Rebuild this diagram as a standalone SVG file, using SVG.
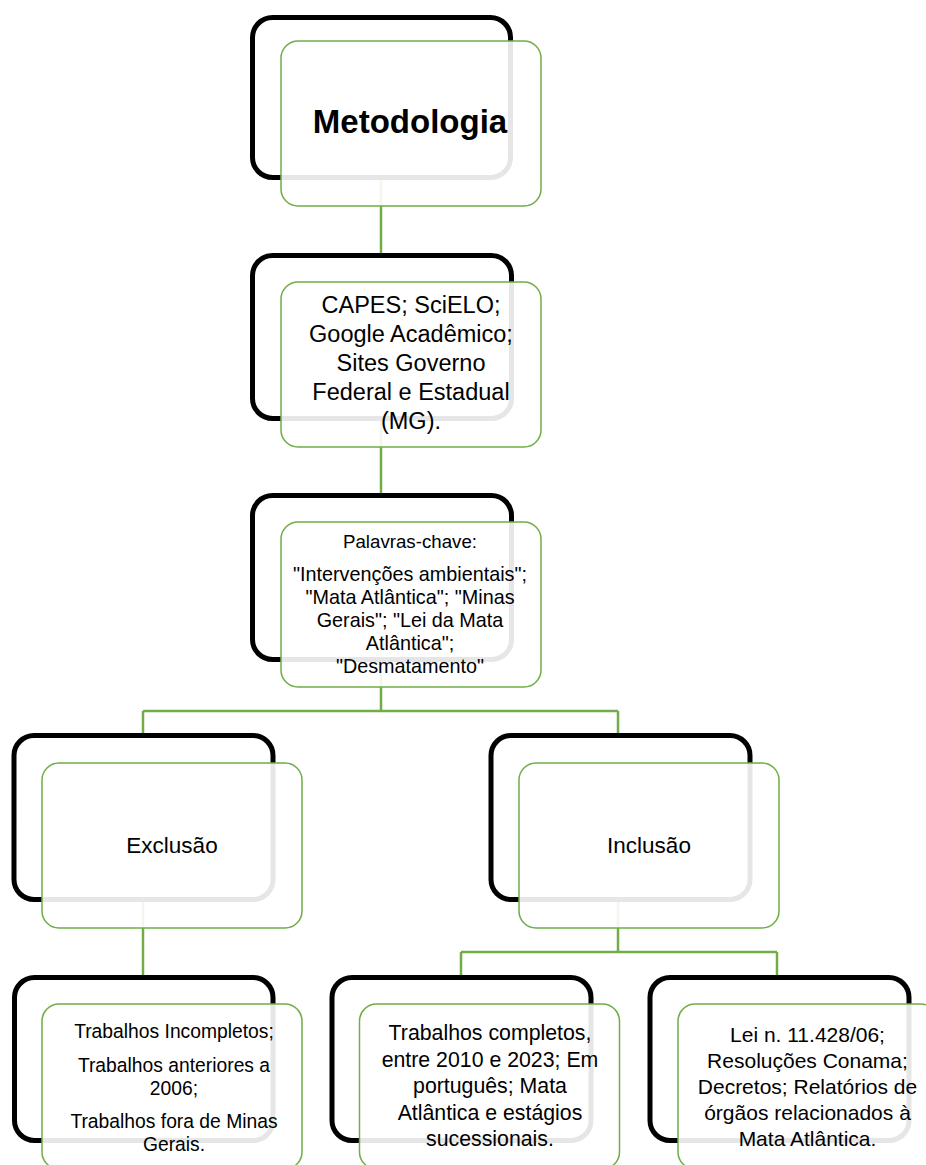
<svg xmlns="http://www.w3.org/2000/svg" width="926" height="1165" viewBox="0 0 926 1165">
<style>
.blk{fill:none;stroke:#000;stroke-width:5}
.grn{fill:#fff;fill-opacity:0.9;stroke:#70AD47;stroke-width:1.5}
.conn{fill:none;stroke:#70AD47;stroke-width:2.5}
.t{font-family:"Liberation Sans",Arial,sans-serif;fill:#000;text-anchor:middle}
</style>
<rect x="0" y="0" width="926" height="1165" fill="#fff"/>
<g id="connectors">
<path class="conn" d="M381,178 V256"/>
<path class="conn" d="M381,420 V495"/>
<path class="conn" d="M381,660 V711 M143,711 H618 M143,711 V735 M618,711 V735"/>
<path class="conn" d="M143,900 V977"/>
<path class="conn" d="M618,900 V952 M461,952 H777 M461,952 V977 M777,952 V977"/>
</g>
<g id="metodologia">
<rect class="blk" x="252.5" y="17.5" width="258" height="160" rx="20"/>
<rect class="grn" x="281" y="41" width="260" height="165" rx="17"/>
<text class="t" x="410" y="133" font-size="33" font-weight="bold">Metodologia</text>
</g>
<g id="bases">
<rect class="blk" x="252.5" y="255.5" width="259" height="163" rx="20"/>
<rect class="grn" x="281" y="282" width="260" height="165" rx="17"/>
<text class="t" x="411" font-size="23.5"><tspan x="411" y="313">CAPES; SciELO;</tspan><tspan x="411" y="342">Google Acadêmico;</tspan><tspan x="411" y="371">Sites Governo</tspan><tspan x="411" y="400">Federal e Estadual</tspan><tspan x="411" y="428.5">(MG).</tspan></text>
</g>
<g id="palavras">
<rect class="blk" x="252.5" y="495.5" width="259" height="164" rx="20"/>
<rect class="grn" x="281" y="522" width="260" height="165" rx="17"/>
<text class="t" x="410" y="548" font-size="18.7">Palavras-chave:</text>
<text class="t" x="410" font-size="19.8"><tspan x="410" y="581">"Intervenções ambientais";</tspan><tspan x="410" y="603.5">"Mata Atlântica"; "Minas</tspan><tspan x="410" y="626.5">Gerais"; "Lei da Mata</tspan><tspan x="410" y="650">Atlântica";</tspan><tspan x="410" y="673">"Desmatamento"</tspan></text>
</g>
<g id="exclusao">
<rect class="blk" x="14" y="735.5" width="259" height="164" rx="20"/>
<rect class="grn" x="42" y="763" width="260" height="165" rx="17"/>
<text class="t" x="172" y="853" font-size="22.5">Exclusão</text>
</g>
<g id="inclusao">
<rect class="blk" x="491" y="735.5" width="259" height="164" rx="20"/>
<rect class="grn" x="519" y="763" width="260" height="165" rx="17"/>
<text class="t" x="649" y="853" font-size="22.5">Inclusão</text>
</g>
<g id="criterios-exclusao">
<rect class="blk" x="14.5" y="977.5" width="258.5" height="163" rx="20"/>
<rect class="grn" x="42" y="1004" width="260" height="165" rx="17"/>
<text class="t" x="174" font-size="19.3"><tspan x="174" y="1038">Trabalhos Incompletos;</tspan><tspan x="174" y="1071.5">Trabalhos anteriores a</tspan><tspan x="174" y="1095">2006;</tspan><tspan x="174" y="1128">Trabalhos fora de Minas</tspan><tspan x="174" y="1151">Gerais.</tspan></text>
</g>
<g id="criterios-inclusao">
<rect class="blk" x="332" y="977.5" width="259" height="163" rx="20"/>
<rect class="grn" x="359.5" y="1004" width="260" height="165" rx="17"/>
<text class="t" x="490" font-size="21.3"><tspan x="490" y="1040">Trabalhos completos,</tspan><tspan x="490" y="1066.5">entre 2010 e 2023; Em</tspan><tspan x="490" y="1093">português; Mata</tspan><tspan x="490" y="1119.5">Atlântica e estágios</tspan><tspan x="490" y="1145.5">sucessionais.</tspan></text>
</g>
<g id="legislacao">
<rect class="blk" x="650" y="977.5" width="259" height="163" rx="20"/>
<rect class="grn" x="678" y="1004" width="260" height="165" rx="17"/>
<text class="t" x="807.5" font-size="21"><tspan x="807.5" y="1041.5">Lei n. 11.428/06;</tspan><tspan x="807.5" y="1067.5">Resoluções Conama;</tspan><tspan x="807.5" y="1094">Decretos; Relatórios de</tspan><tspan x="807.5" y="1120">órgãos relacionados à</tspan><tspan x="807.5" y="1145.5">Mata Atlântica.</tspan></text>
</g>
</svg>
